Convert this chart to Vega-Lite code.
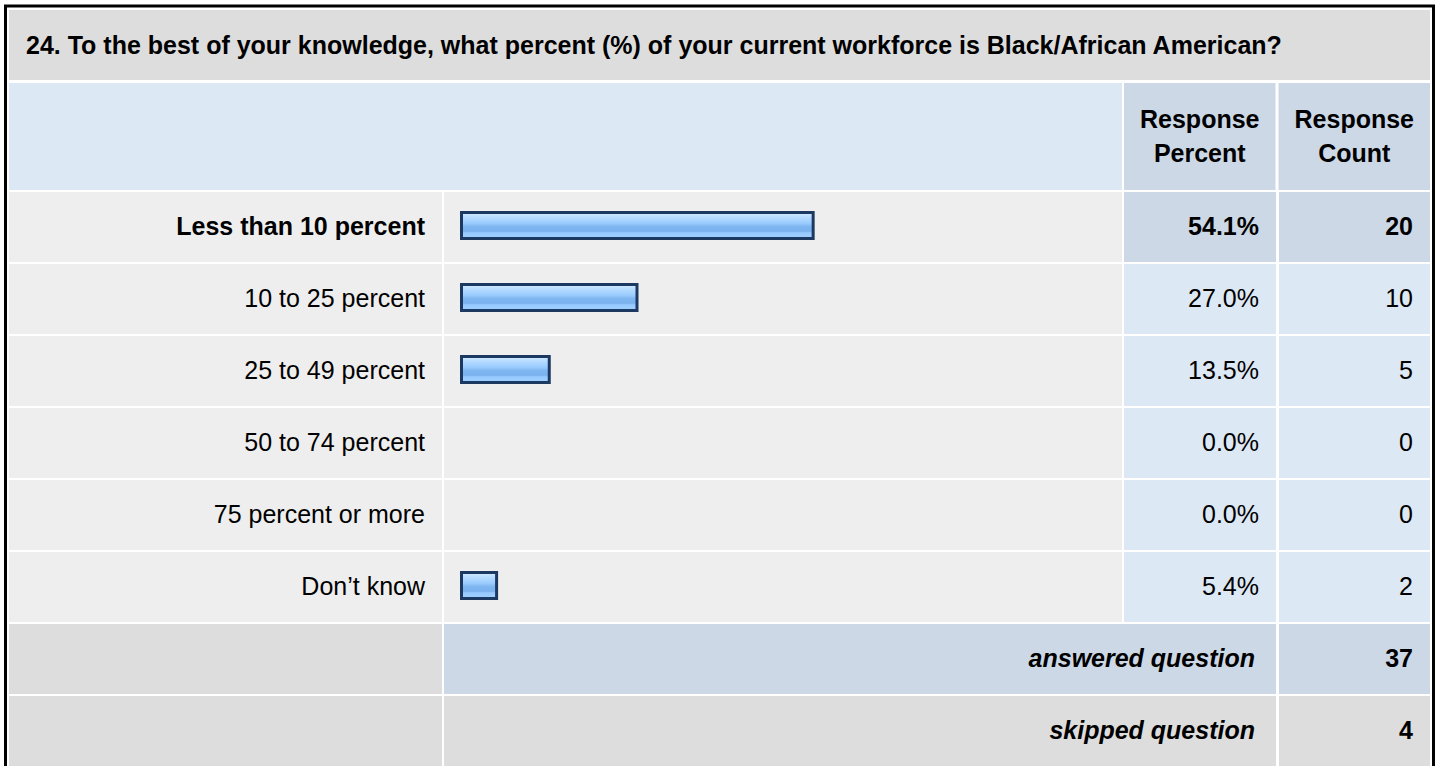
{
  "$schema": "https://vega.github.io/schema/vega-lite/v6.json",
  "width": 1428,
  "height": 770,
  "autosize": {"type": "none"},
  "padding": {"left": 5.5, "top": 6, "right": 6.5, "bottom": 0},
  "background": "white",
  "config": {
    "view": {"stroke": "black", "strokeWidth": 3, "fill": null},
    "font": "Liberation Sans",
    "text": {"fontSize": 25, "color": "#000000", "baseline": "middle"}
  },
  "datasets": {
    "question": [{"text": "24. To the best of your knowledge, what percent (%) of your current workforce is Black/African American?"}],
    "headers": [
      {"column": "Response Percent", "lines": ["Response", "Percent"]},
      {"column": "Response Count", "lines": ["Response", "Count"]}
    ],
    "answers": [
      {"row": "Less than 10 percent", "percent": 0.541, "count": 20},
      {"row": "10 to 25 percent", "percent": 0.270, "count": 10},
      {"row": "25 to 49 percent", "percent": 0.135, "count": 5},
      {"row": "50 to 74 percent", "percent": 0.0, "count": 0},
      {"row": "75 percent or more", "percent": 0.0, "count": 0},
      {"row": "Don’t know", "percent": 0.054, "count": 2}
    ],
    "summary": [
      {"row": "answered question", "value": 37},
      {"row": "skipped question", "value": 4}
    ]
  },
  "layer": [
    {
      "data": {"name": "question"},
      "layer": [
        {
          "mark": {"type": "rect", "color": "#DDDDDD"},
          "encoding": {
            "x": {"datum": "question", "type": "nominal", "axis": null, "scale": {"type": "band", "domain": ["question"], "range": [3.5, 1424.5], "paddingInner": 0, "paddingOuter": 0}},
            "y": {"datum": "question", "type": "nominal", "axis": null, "scale": {"type": "band", "domain": ["question"], "range": [4, 74], "paddingInner": 0, "paddingOuter": 0}}
          }
        },
        {
          "mark": {"type": "text", "align": "left", "dx": 17, "dy": 1, "fontWeight": "bold"},
          "encoding": {
            "x": {"datum": "question", "type": "nominal", "bandPosition": 0, "axis": null, "scale": {"type": "band", "domain": ["question"], "range": [3.5, 1424.5], "paddingInner": 0, "paddingOuter": 0}},
            "y": {"datum": "question", "type": "nominal", "axis": null, "scale": {"type": "band", "domain": ["question"], "range": [4, 74], "paddingInner": 0, "paddingOuter": 0}},
            "text": {"field": "text"}
          }
        }
      ]
    },
    {
      "data": {"name": "headers"},
      "layer": [
        {
          "mark": {"type": "rect", "color": "#DDE8F5"},
          "encoding": {
            "x": {"datum": "options", "type": "nominal", "axis": null, "scale": {"type": "band", "domain": ["options"], "range": [3.5, 1116.5], "paddingInner": 0, "paddingOuter": 0}},
            "y": {"datum": "header", "type": "nominal", "axis": null, "scale": {"type": "band", "domain": ["header"], "range": [77, 184], "paddingInner": 0, "paddingOuter": 0}}
          }
        },
        {
          "mark": {"type": "rect", "color": "#CCD8E6"},
          "encoding": {
            "x": {"field": "column", "type": "nominal", "axis": null, "scale": {"type": "band", "domain": ["Response Percent", "Response Count"], "range": [1118.5, 1424.5], "paddingInner": 0.0196, "paddingOuter": 0}},
            "y": {"datum": "header", "type": "nominal", "axis": null, "scale": {"type": "band", "domain": ["header"], "range": [77, 184], "paddingInner": 0, "paddingOuter": 0}}
          }
        },
        {
          "mark": {"type": "text", "align": "center", "fontWeight": "bold", "lineHeight": 34, "dy": -17},
          "encoding": {
            "x": {"field": "column", "type": "nominal", "axis": null, "scale": {"type": "band", "domain": ["Response Percent", "Response Count"], "range": [1118.5, 1424.5], "paddingInner": 0.0196, "paddingOuter": 0}},
            "y": {"datum": "header", "type": "nominal", "axis": null, "scale": {"type": "band", "domain": ["header"], "range": [77, 184], "paddingInner": 0, "paddingOuter": 0}},
            "text": {"field": "lines"}
          }
        }
      ],
      "resolve": {"scale": {"x": "independent"}}
    },
    {
      "encoding": {
        "y": {"field": "row", "type": "nominal", "axis": null, "scale": {"type": "band", "domain": ["Less than 10 percent", "10 to 25 percent", "25 to 49 percent", "50 to 74 percent", "75 percent or more", "Don’t know", "answered question", "skipped question"], "range": [186, 760], "paddingInner": 0.02778, "paddingOuter": 0}}
      },
      "layer": [
        {
          "data": {"name": "answers"},
          "mark": {"type": "rect", "color": "#EEEEEE"},
          "encoding": {
            "x": {"datum": "label", "type": "nominal", "axis": null, "scale": {"type": "band", "domain": ["label"], "range": [3.5, 436.5], "paddingInner": 0, "paddingOuter": 0}}
          }
        },
        {
          "data": {"name": "answers"},
          "mark": {"type": "rect", "color": "#EEEEEE"},
          "encoding": {
            "x": {"datum": "bar", "type": "nominal", "axis": null, "scale": {"type": "band", "domain": ["bar"], "range": [438.5, 1116.5], "paddingInner": 0, "paddingOuter": 0}}
          }
        },
        {
          "data": {"name": "answers"},
          "transform": [{"joinaggregate": [{"op": "max", "field": "count", "as": "maxCount"}]}],
          "mark": {"type": "rect"},
          "encoding": {
            "x": {"datum": "percent", "type": "nominal", "axis": null, "scale": {"type": "band", "domain": ["percent"], "range": [1118.5, 1270.5], "paddingInner": 0, "paddingOuter": 0}},
            "color": {"condition": {"test": "datum.count === datum.maxCount", "value": "#CCD8E6"}, "value": "#DDE8F5"}
          }
        },
        {
          "data": {"name": "answers"},
          "transform": [{"joinaggregate": [{"op": "max", "field": "count", "as": "maxCount"}]}],
          "mark": {"type": "rect"},
          "encoding": {
            "x": {"datum": "count", "type": "nominal", "axis": null, "scale": {"type": "band", "domain": ["count"], "range": [1273.5, 1424.5], "paddingInner": 0, "paddingOuter": 0}},
            "color": {"condition": {"test": "datum.count === datum.maxCount", "value": "#CCD8E6"}, "value": "#DDE8F5"}
          }
        },
        {
          "data": {"name": "summary"},
          "mark": {"type": "rect", "color": "#DDDDDD"},
          "encoding": {
            "x": {"datum": "label", "type": "nominal", "axis": null, "scale": {"type": "band", "domain": ["label"], "range": [3.5, 436.5], "paddingInner": 0, "paddingOuter": 0}}
          }
        },
        {
          "data": {"name": "summary"},
          "mark": {"type": "rect"},
          "encoding": {
            "x": {"datum": "merged", "type": "nominal", "axis": null, "scale": {"type": "band", "domain": ["merged"], "range": [438.5, 1270.5], "paddingInner": 0, "paddingOuter": 0}},
            "color": {"condition": {"test": "datum.row === 'answered question'", "value": "#CCD8E6"}, "value": "#DDDDDD"}
          }
        },
        {
          "data": {"name": "summary"},
          "mark": {"type": "rect"},
          "encoding": {
            "x": {"datum": "count", "type": "nominal", "axis": null, "scale": {"type": "band", "domain": ["count"], "range": [1273.5, 1424.5], "paddingInner": 0, "paddingOuter": 0}},
            "color": {"condition": {"test": "datum.row === 'answered question'", "value": "#CCD8E6"}, "value": "#DDDDDD"}
          }
        },
        {
          "data": {"name": "answers"},
          "transform": [{"filter": "datum.percent > 0"}],
          "mark": {
            "type": "bar",
            "stroke": "#1C3961",
            "strokeWidth": 3,
            "height": {"band": 0.3714},
            "yOffset": -1.5,
            "fill": {
              "gradient": "linear", "x1": 0, "y1": 0, "x2": 0, "y2": 1,
              "stops": [
                {"offset": 0, "color": "#D2EAFF"},
                {"offset": 0.2, "color": "#B4DAFF"},
                {"offset": 0.4, "color": "#9CCDFF"},
                {"offset": 0.55, "color": "#7EB6F0"},
                {"offset": 0.72, "color": "#7AB2EE"},
                {"offset": 0.78, "color": "#96C9FF"},
                {"offset": 1, "color": "#A3D1FF"}
              ]
            }
          },
          "encoding": {
            "x": {"field": "percent", "type": "quantitative", "axis": null, "scale": {"domain": [0, 1], "range": [456, 1106], "nice": false}}
          }
        },
        {
          "data": {"name": "answers"},
          "transform": [{"joinaggregate": [{"op": "max", "field": "count", "as": "maxCount"}]}, {"filter": "datum.count !== datum.maxCount"}],
          "mark": {"type": "text", "align": "right", "dx": -17},
          "encoding": {
            "x": {"datum": "label", "type": "nominal", "bandPosition": 1, "axis": null, "scale": {"type": "band", "domain": ["label"], "range": [3.5, 436.5], "paddingInner": 0, "paddingOuter": 0}},
            "text": {"field": "row"}
          }
        },
        {
          "data": {"name": "answers"},
          "transform": [{"joinaggregate": [{"op": "max", "field": "count", "as": "maxCount"}]}, {"filter": "datum.count === datum.maxCount"}],
          "mark": {"type": "text", "align": "right", "dx": -17, "fontWeight": "bold"},
          "encoding": {
            "x": {"datum": "label", "type": "nominal", "bandPosition": 1, "axis": null, "scale": {"type": "band", "domain": ["label"], "range": [3.5, 436.5], "paddingInner": 0, "paddingOuter": 0}},
            "text": {"field": "row"}
          }
        },
        {
          "data": {"name": "answers"},
          "transform": [{"joinaggregate": [{"op": "max", "field": "count", "as": "maxCount"}]}, {"filter": "datum.count !== datum.maxCount"}],
          "mark": {"type": "text", "align": "right", "dx": -17},
          "encoding": {
            "x": {"datum": "percent", "type": "nominal", "bandPosition": 1, "axis": null, "scale": {"type": "band", "domain": ["percent"], "range": [1118.5, 1270.5], "paddingInner": 0, "paddingOuter": 0}},
            "text": {"field": "percent", "type": "quantitative", "format": ".1%"}
          }
        },
        {
          "data": {"name": "answers"},
          "transform": [{"joinaggregate": [{"op": "max", "field": "count", "as": "maxCount"}]}, {"filter": "datum.count === datum.maxCount"}],
          "mark": {"type": "text", "align": "right", "dx": -17, "fontWeight": "bold"},
          "encoding": {
            "x": {"datum": "percent", "type": "nominal", "bandPosition": 1, "axis": null, "scale": {"type": "band", "domain": ["percent"], "range": [1118.5, 1270.5], "paddingInner": 0, "paddingOuter": 0}},
            "text": {"field": "percent", "type": "quantitative", "format": ".1%"}
          }
        },
        {
          "data": {"name": "answers"},
          "transform": [{"joinaggregate": [{"op": "max", "field": "count", "as": "maxCount"}]}, {"filter": "datum.count !== datum.maxCount"}],
          "mark": {"type": "text", "align": "right", "dx": -17},
          "encoding": {
            "x": {"datum": "count", "type": "nominal", "bandPosition": 1, "axis": null, "scale": {"type": "band", "domain": ["count"], "range": [1273.5, 1424.5], "paddingInner": 0, "paddingOuter": 0}},
            "text": {"field": "count", "type": "quantitative"}
          }
        },
        {
          "data": {"name": "answers"},
          "transform": [{"joinaggregate": [{"op": "max", "field": "count", "as": "maxCount"}]}, {"filter": "datum.count === datum.maxCount"}],
          "mark": {"type": "text", "align": "right", "dx": -17, "fontWeight": "bold"},
          "encoding": {
            "x": {"datum": "count", "type": "nominal", "bandPosition": 1, "axis": null, "scale": {"type": "band", "domain": ["count"], "range": [1273.5, 1424.5], "paddingInner": 0, "paddingOuter": 0}},
            "text": {"field": "count", "type": "quantitative"}
          }
        },
        {
          "data": {"name": "summary"},
          "mark": {"type": "text", "align": "right", "dx": -21, "fontWeight": "bold", "fontStyle": "italic"},
          "encoding": {
            "x": {"datum": "merged", "type": "nominal", "bandPosition": 1, "axis": null, "scale": {"type": "band", "domain": ["merged"], "range": [438.5, 1270.5], "paddingInner": 0, "paddingOuter": 0}},
            "text": {"field": "row"}
          }
        },
        {
          "data": {"name": "summary"},
          "mark": {"type": "text", "align": "right", "dx": -17, "fontWeight": "bold"},
          "encoding": {
            "x": {"datum": "count", "type": "nominal", "bandPosition": 1, "axis": null, "scale": {"type": "band", "domain": ["count"], "range": [1273.5, 1424.5], "paddingInner": 0, "paddingOuter": 0}},
            "text": {"field": "value", "type": "quantitative"}
          }
        }
      ],
      "resolve": {"scale": {"x": "independent"}}
    }
  ],
  "resolve": {"scale": {"x": "independent", "y": "independent"}}
}
